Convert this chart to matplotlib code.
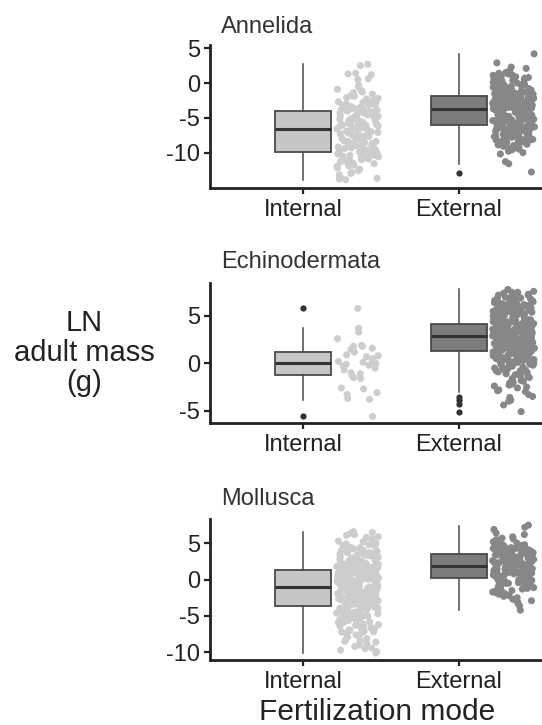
import matplotlib
matplotlib.use("Agg")
import numpy as np
import matplotlib.pyplot as plt

plt.rcParams["font.family"] = ["Liberation Sans", "DejaVu Sans"]
plt.rcParams["axes.unicode_minus"] = False

W, H = 542, 725

categories = ["Internal", "External"]
phyla = ["Annelida", "Echinodermata", "Mollusca"]

# box statistics: (median, q1, q3, whisker low, whisker high, outliers)
ann_box_int = (-6.6, -9.9, -4.0, -14.0, 2.7, [])
ann_box_ext = (-3.7, -6.0, -1.9, -11.6, 4.2, [-12.9])
ech_box_int = (0.0, -1.27, 1.22, -3.9, 3.7, [5.8, -5.6])
ech_box_ext = (2.9, 1.26, 4.2, -3.0, 7.8, [-3.6, -3.9, -4.3, -5.1])
mol_box_int = (-0.96, -3.58, 1.33, -10.1, 6.6, [])
mol_box_ext = (1.83, 0.18, 3.53, -4.17, 7.43, [])

# raw points (LN adult mass), estimated from the jittered clouds
ann_int = [2.7, 2.5, 1.4, 1.3, 1.2, 0.6, 0.5, -0.3, -0.6, -0.9,
           -1.1, -1.3, -1.4, -1.6, -1.8, -1.9, -2.1, -2.2, -2.3, -2.5, -2.6, -2.7, -2.8, -2.9,
           -3.0, -3.1, -3.2, -3.2, -3.3, -3.4, -3.5, -3.6, -3.6, -3.7, -3.8, -3.8, -3.9,
           -4.0, -4.0, -4.1, -4.2, -4.3, -4.3, -4.4, -4.5, -4.6, -4.7, -4.8, -4.8, -4.9, -5.0,
           -5.1, -5.2, -5.2, -5.3, -5.4, -5.5, -5.6, -5.6, -5.7, -5.8, -5.9, -5.9, -6.0, -6.1,
           -6.2, -6.2, -6.3, -6.4, -6.4, -6.5, -6.6, -6.6,
           -6.7, -6.8, -6.9, -7.0, -7.1, -7.2, -7.3, -7.4, -7.5, -7.6, -7.7, -7.8, -7.9, -8.0,
           -8.1, -8.2, -8.3, -8.4, -8.4, -8.5, -8.6, -8.7, -8.8, -8.9, -9.0, -9.1, -9.1, -9.2,
           -9.3, -9.4, -9.4, -9.5, -9.6, -9.6, -9.7, -9.7,
           -9.8, -9.8, -9.9, -10.0, -10.0, -10.1, -10.2, -10.2, -10.3, -10.4, -10.4, -10.5,
           -10.6, -10.6, -10.7, -10.8, -10.9, -11.0, -11.1, -11.2, -11.3, -11.5, -11.6, -11.8,
           -11.9, -12.0, -12.2, -12.4, -12.6, -12.8, -13.0, -13.2, -13.5, -13.7, -13.8, -13.9]

ann_ext = [4.2, 2.9, 2.3, 2.1, 1.8, 1.5, 1.4, 1.3, 1.2, 1.1, 1.0, 0.9, 0.8, 0.7, 0.6, 0.5,
           0.5, 0.4, 0.3, 0.2, 0.1, 0.1, 0.0, -0.1, -0.2, -0.2, -0.3, -0.4, -0.4, -0.5, -0.6,
           -0.6, -0.7, -0.8, -0.8, -0.9, -0.9, -1.0, -1.0, -1.1, -1.1, -1.2, -1.2, -1.3, -1.3,
           -1.4, -1.4, -1.5, -1.5, -1.5, -1.6, -1.6, -1.7, -1.7, -1.7, -1.8, -1.8, -1.8, -1.9,
           -1.9,
           -2.0, -2.0, -2.0, -2.1, -2.1, -2.1, -2.2, -2.2, -2.2, -2.3, -2.3, -2.3, -2.4, -2.4,
           -2.4, -2.4, -2.5, -2.5, -2.5, -2.6, -2.6, -2.6, -2.7, -2.7, -2.7, -2.8, -2.8, -2.8,
           -2.8, -2.9, -2.9, -2.9, -3.0, -3.0, -3.0, -3.0, -3.1, -3.1, -3.1, -3.2, -3.2, -3.2,
           -3.3, -3.3, -3.3, -3.3, -3.4, -3.4, -3.4, -3.5, -3.5, -3.5, -3.5, -3.6, -3.6, -3.6,
           -3.6, -3.7, -3.7, -3.7,
           -3.8, -3.8, -3.9, -3.9, -3.9, -4.0, -4.0, -4.1, -4.1, -4.1, -4.2, -4.2, -4.3, -4.3,
           -4.4, -4.4, -4.4, -4.5, -4.5, -4.6, -4.6, -4.7, -4.7, -4.7, -4.8, -4.8, -4.9, -4.9,
           -5.0, -5.0, -5.0, -5.1, -5.1, -5.2, -5.2, -5.3, -5.3, -5.3, -5.4, -5.4, -5.5, -5.5,
           -5.6, -5.6, -5.6, -5.7, -5.7, -5.8, -5.8, -5.8, -5.9, -5.9, -5.9, -6.0, -6.0, -6.0,
           -4.5, -5.2, -3.9, -4.8,
           -6.1, -6.1, -6.2, -6.2, -6.3, -6.3, -6.4, -6.4, -6.5, -6.5, -6.6, -6.6, -6.7, -6.7,
           -6.8, -6.8, -6.9, -6.9, -7.0, -7.0, -7.1, -7.2, -7.2, -7.3, -7.4, -7.4, -7.5, -7.6,
           -7.7, -7.7, -7.8, -7.9, -8.0, -8.0, -8.1, -8.2, -8.3, -8.4, -8.5, -8.5, -8.6, -8.7,
           -8.8, -8.9, -9.0, -9.1, -9.2, -9.2, -9.3, -9.4, -9.5, -9.6, -9.8, -10.0, -10.2,
           -11.3, -11.6, -12.8, -8.2, -7.5]

ech_int = [5.8, 3.7, 3.3, 2.6, 1.9, 1.8, 1.8, 1.6, 1.5, 1.2, 0.9, 0.8, 0.7, 0.5, 0.3, 0.2,
           0.1, 0.0, -0.1, -0.2, -0.3, -0.5, -0.7, -1.0, -1.1, -1.3, -1.5, -1.6, -2.6, -2.7,
           -3.1, -3.3, -3.7, -3.8, -5.6]

ech_ext = [4.3, 4.3, 4.4, 4.4, 4.5, 4.5, 4.6, 4.6, 4.7, 4.7, 4.8, 4.8, 4.9, 4.9, 5.0, 5.0,
           5.1, 5.1, 5.2, 5.2, 5.3, 5.3, 5.4, 5.4, 5.5, 5.5, 5.6, 5.6, 5.7, 5.7, 5.8, 5.8,
           5.9, 5.9, 6.0, 6.0, 6.1, 6.1, 6.2, 6.2, 6.3, 6.3, 6.4, 6.4, 6.5, 6.5, 6.6, 6.6,
           6.7, 6.7, 6.8, 6.8, 6.9, 6.9, 7.0, 7.0, 7.1, 7.2, 7.3, 7.4, 7.5, 7.6, 7.8, 4.4,
           4.6, 4.9, 5.1, 5.4, 5.6, 5.9, 6.1, 6.4, 6.6, 6.9, 7.2, 4.5, 5.3, 5.8, 6.3, 7.5,
           2.9, 2.9, 2.9, 2.9, 2.9, 3.0, 3.0, 3.0, 3.0, 3.0, 3.1, 3.1, 3.1, 3.1, 3.1, 3.2,
           3.2, 3.2, 3.2, 3.2, 3.3, 3.3, 3.3, 3.3, 3.3, 3.4, 3.4, 3.4, 3.4, 3.4, 3.5, 3.5,
           3.5, 3.5, 3.5, 3.6, 3.6, 3.6, 3.6, 3.6, 3.7, 3.7, 3.7, 3.7, 3.7, 3.8, 3.8, 3.8,
           3.8, 3.8, 3.9, 3.9, 3.9, 3.9, 3.9, 4.0, 4.0, 4.0, 4.0, 4.0, 4.1, 4.1, 4.1, 4.1,
           4.1, 4.2, 4.2, 4.2, 4.2, 4.2, 3.0, 3.2, 3.4, 3.6, 3.8, 4.0, 3.1, 3.5, 3.9, 4.1,
           1.3, 1.3, 1.3, 1.3, 1.3, 1.4, 1.4, 1.4, 1.4, 1.4, 1.5, 1.5, 1.5, 1.5, 1.5, 1.6,
           1.6, 1.6, 1.6, 1.6, 1.7, 1.7, 1.7, 1.7, 1.7, 1.8, 1.8, 1.8, 1.8, 1.8, 1.9, 1.9,
           1.9, 1.9, 1.9, 2.0, 2.0, 2.0, 2.0, 2.0, 2.1, 2.1, 2.1, 2.1, 2.1, 2.2, 2.2, 2.2,
           2.2, 2.2, 2.3, 2.3, 2.3, 2.3, 2.3, 2.4, 2.4, 2.4, 2.4, 2.4, 2.5, 2.5, 2.5, 2.5,
           2.5, 2.6, 2.6, 2.6, 2.6, 2.6, 2.7, 2.7, 2.7, 2.7, 2.7, 2.8, 2.8, 2.8, 2.8, 2.8,
           1.2, 1.2, 1.2, 1.1, 1.1, 1.1, 1.0, 1.0, 1.0, 0.9, 0.9, 0.9, 0.8, 0.8, 0.8, 0.7,
           0.7, 0.7, 0.6, 0.6, 0.6, 0.5, 0.5, 0.5, 0.4, 0.4, 0.4, 0.3, 0.3, 0.3, 0.2, 0.2,
           0.2, 0.1, 0.1, 0.1, 0.0, 0.0, 0.0, -0.1, -0.2, -0.2, -0.3, -0.4, -0.4, -0.5, -0.6,
           -0.6, -0.7, -0.8, -0.8, -0.9, -1.0, -1.1, -1.1, -1.2, -1.3, -1.4, -1.5, -1.6, -1.7,
           -1.9, -2.0, -2.1, -2.2, -2.4, -2.5, -2.6, -2.8, -2.9, -3.0, -3.3, -3.5, -3.6, -3.9,
           -4.0, -4.4, -5.1, -1.8, -2.3]

mol_int = [6.6, 6.5, 6.4, 6.2, 6.1, 5.9, 5.8, 5.6, 5.5, 5.3, 5.2, 5.0, 4.9, 4.8, 4.7, 4.6,
           4.5, 4.4, 4.4, 4.3, 4.2, 4.1, 4.0, 4.0, 3.9, 3.8, 3.7, 3.7, 3.6, 3.5, 3.5, 3.4,
           3.3, 3.3, 3.2, 3.1, 3.1, 3.0, 2.9, 2.9, 2.8, 2.8, 2.7, 2.6, 2.6, 2.5, 2.5, 2.4,
           2.4, 2.3, 2.3, 2.2, 2.2, 2.1, 2.1, 2.0, 2.0, 1.9, 1.9, 1.9, 1.8, 1.8, 1.8, 1.7,
           1.7, 1.7, 1.6, 1.6, 1.6, 1.5, 1.5, 1.5, 1.4, 1.4, 1.4,
           1.3, 1.3, 1.3, 1.2, 1.2, 1.2, 1.1, 1.1, 1.1, 1.0, 1.0, 1.0, 0.9, 0.9, 0.9, 0.8,
           0.8, 0.8, 0.7, 0.7, 0.7, 0.6, 0.6, 0.6, 0.5, 0.5, 0.5, 0.4, 0.4, 0.4, 0.3, 0.3,
           0.3, 0.2, 0.2, 0.2, 0.1, 0.1, 0.1, 0.0, 0.0, 0.0, -0.1, -0.1, -0.1, -0.2, -0.2,
           -0.2, -0.3, -0.3, -0.3, -0.4, -0.4, -0.4, -0.5, -0.5, -0.5, -0.6, -0.6, -0.6, -0.7,
           -0.7, -0.7, -0.8, -0.8, -0.8, -0.9, -0.9, -0.9, 1.1, 0.6, 0.2, -0.3, -0.6, 0.9,
           -1.0, -1.0, -1.0, -1.1, -1.1, -1.1, -1.2, -1.2, -1.2, -1.3, -1.3, -1.3, -1.4, -1.4,
           -1.4, -1.5, -1.5, -1.5, -1.6, -1.6, -1.6, -1.7, -1.7, -1.7, -1.8, -1.8, -1.8, -1.9,
           -1.9, -1.9, -2.0, -2.0, -2.0, -2.1, -2.1, -2.1, -2.2, -2.2, -2.2, -2.3, -2.3, -2.3,
           -2.4, -2.4, -2.4, -2.5, -2.5, -2.5, -2.6, -2.6, -2.6, -2.7, -2.7, -2.7, -2.8, -2.8,
           -2.8, -2.9, -2.9, -2.9, -3.0, -3.0, -3.0, -3.1, -3.1, -3.2, -3.2, -3.3, -3.3, -3.4,
           -3.4, -3.5, -3.5, -3.6, -3.6,
           -3.7, -3.7, -3.8, -3.8, -3.9, -3.9, -4.0, -4.0, -4.1, -4.1, -4.2, -4.2, -4.3, -4.3,
           -4.4, -4.4, -4.5, -4.5, -4.6, -4.6, -4.7, -4.7, -4.8, -4.8, -4.9, -4.9, -5.0, -5.0,
           -5.1, -5.2, -5.2, -5.3, -5.4, -5.4, -5.5, -5.6, -5.6, -5.7, -5.8, -5.9, -5.9, -6.0,
           -6.1, -6.2, -6.3, -6.4, -6.5, -6.6, -6.7, -6.8, -6.9, -7.0, -7.1, -7.2, -7.3, -7.4,
           -7.5, -7.6, -7.8, -7.9, -8.1, -8.3, -8.4, -8.6, -8.8, -9.0, -9.2, -9.4, -9.5, -9.7,
           -9.9, -10.1, -6.3, -7.2, -8.5]

mol_ext = [7.5, 7.2, 6.9, 6.4, 6.2, 5.9, 5.7, 5.5, 5.3, 5.2, 5.0, 4.9, 4.8, 4.7, 4.6, 4.5,
           4.4, 4.4, 4.3, 4.2, 4.2, 4.1, 4.0, 4.0, 3.9, 3.9, 3.8, 3.8, 3.7, 3.7, 3.6, 3.6,
           4.5, 4.1, 3.9, 4.8, 5.1, 4.3, 3.7, 4.6, 5.6,
           3.5, 3.5, 3.4, 3.4, 3.3, 3.3, 3.2, 3.2, 3.1, 3.1, 3.0, 3.0, 2.9, 2.9, 2.8, 2.8,
           2.7, 2.7, 2.6, 2.6, 2.5, 2.5, 2.4, 2.4, 2.3, 2.3, 2.2, 2.2, 2.1, 2.1, 2.0, 2.0,
           1.9, 1.9, 3.4, 3.0, 2.6, 2.3, 2.0, 2.8, 3.2,
           1.8, 1.8, 1.7, 1.7, 1.6, 1.6, 1.5, 1.5, 1.4, 1.4, 1.3, 1.3, 1.2, 1.2, 1.1, 1.1,
           1.0, 1.0, 0.9, 0.9, 0.8, 0.8, 0.7, 0.7, 0.6, 0.6, 0.5, 0.5, 0.4, 0.4, 0.3, 0.3,
           0.2, 0.2, 1.6, 1.2, 0.9, 0.5, 1.4, 0.7, 1.0,
           0.1, 0.1, 0.0, 0.0, -0.1, -0.1, -0.2, -0.3, -0.3, -0.4, -0.5, -0.5, -0.6, -0.7,
           -0.8, -0.8, -0.9, -1.0, -1.1, -1.2, -1.3, -1.4, -1.5, -1.6, -1.7, -1.8, -1.9, -2.0,
           -2.2, -2.3, -2.5, -2.7, -2.9, -3.1, -3.3, -3.6, -4.2, -0.4, -1.0, -1.6, -2.1]

ann_ylim, ann_ticks = (-15.05, 5.47), [5, 0, -5, -10]
ech_ylim, ech_ticks = (-6.27, 8.45), [5, 0, -5]
mol_ylim, mol_ticks = (-11.06, 8.3), [5, 0, -5, -10]

box_face = ["#c6c6c6", "#7c7c7c"]
pt_color = ["#cdcdcd", "#878787"]
edge = "#4a4a4a"
ink = "#222222"


def to_stats(b):
    med, q1, q3, lo, hi, fl = b
    return dict(med=med, q1=q1, q3=q3, whislo=lo, whishi=hi, fliers=fl)


def jitter(n, center, seed):
    # deterministic scatter of horizontal offsets (position only, not data)
    k = np.arange(n) + seed
    frac = (np.sin(k * 12.9898 + 78.233) * 43758.5453) % 1.0
    return center + (frac - 0.5) * 0.27


def draw_panel(ax, title, box_int, box_ext, pts_int, pts_ext, ylim, ticks, title_base, seed):
    bp = ax.bxp([to_stats(box_int), to_stats(box_ext)], positions=[1, 2], widths=0.355,
                patch_artist=True, showcaps=False,
                medianprops=dict(color="#333333", linewidth=2.2),
                whiskerprops=dict(color=edge, linewidth=1.1),
                boxprops=dict(edgecolor=edge, linewidth=1.3),
                flierprops=dict(marker="o", markersize=4.5, markerfacecolor="#333333",
                                markeredgecolor="none"))
    for patch, fc in zip(bp["boxes"], box_face):
        patch.set_facecolor(fc)

    for i, pts in enumerate([pts_int, pts_ext]):
        ax.scatter(jitter(len(pts), i + 1.35, seed + 1000 * i), pts, s=26,
                   color=pt_color[i], edgecolors="none", zorder=3)

    ax.set_xlim(0.4, 2.6)
    ax.set_ylim(*ylim)
    ax.set_xticks([1, 2])
    ax.set_xticklabels(categories)
    ax.set_yticks(ticks)
    ax.set_yticklabels([str(t) for t in ticks])
    for s in ["top", "right"]:
        ax.spines[s].set_visible(False)
    for s in ["left", "bottom"]:
        ax.spines[s].set_linewidth(2.0)
        ax.spines[s].set_color(ink)
    ax.tick_params(length=4, width=1.6, color=ink, labelsize=17, labelcolor=ink, pad=3)
    ax.tick_params(axis="x", pad=4)
    ax.patch.set_alpha(0)

    fig.text(221 / W, 1 - title_base / H, title, ha="left", va="baseline",
             fontsize=17, color="#333333")


fig = plt.figure(figsize=(W / 100, H / 100), dpi=100)

left = 209.5 / W
width = (552.6 - 209.5) / W

ax1 = fig.add_axes([left, 1 - 187.7 / H, width, (187.7 - 45) / H])
ax2 = fig.add_axes([left, 1 - 422.7 / H, width, (422.7 - 283.3) / H])
ax3 = fig.add_axes([left, 1 - 660 / H, width, (660 - 519.3) / H])

draw_panel(ax1, phyla[0], ann_box_int, ann_box_ext, ann_int, ann_ext, ann_ylim, ann_ticks, 33, 1)
draw_panel(ax2, phyla[1], ech_box_int, ech_box_ext, ech_int, ech_ext, ech_ylim, ech_ticks, 268, 7)
draw_panel(ax3, phyla[2], mol_box_int, mol_box_ext, mol_int, mol_ext, mol_ylim, mol_ticks, 505, 13)

fig.text(84 / W, 1 - 353 / H, "LN\nadult mass\n(g)", ha="center", va="center",
         multialignment="center", fontsize=21, linespacing=1.1, color=ink)
fig.text(377 / W, 1 - 720 / H, "Fertilization mode", ha="center", va="baseline",
         fontsize=21.5, color=ink)

fig.savefig("out.png", dpi=100)
